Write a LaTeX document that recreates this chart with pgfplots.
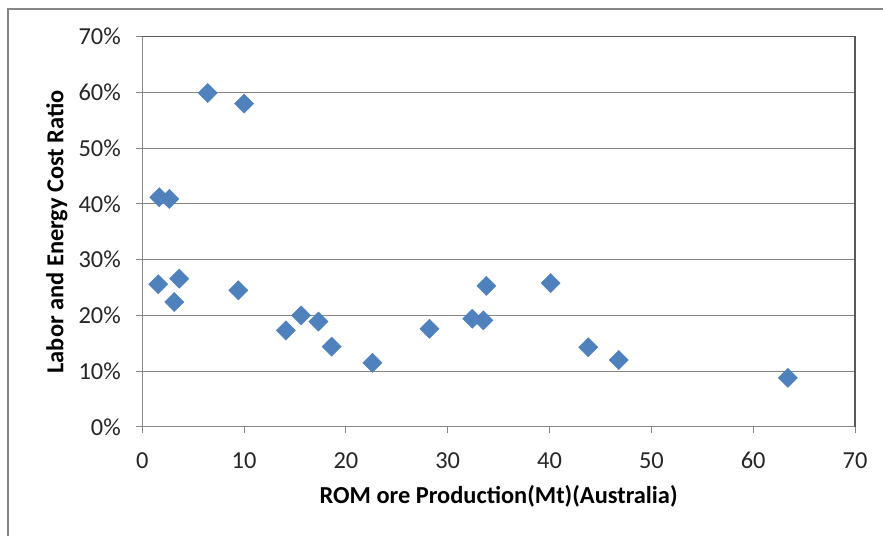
\documentclass[border=0pt]{standalone}
\usepackage{pgfplots}
\pgfplotsset{compat=1.18}
\usepackage{fontspec}
\setmainfont{Carlito}
\definecolor{mblue}{HTML}{4F81BD}
\definecolor{gridg}{HTML}{868686}
\definecolor{darkb}{HTML}{595959}
\begin{document}
\begin{tikzpicture}
\path[use as bounding box] (-142.3bp,-109.1bp) rectangle (740.7bp,426.9bp);
\draw[gridg, line width=1.5bp] (-134.3bp,-130bp) -- (-134.3bp,417.9bp) -- (760bp,417.9bp);
\begin{axis}[
  scale only axis, width=712.7bp, height=390.2bp,
  xmin=0, xmax=70, ymin=0, ymax=70,
  xtick={0,10,...,70}, ytick={0,10,...,70},
  yticklabel={\pgfmathprintnumber{\tick}\%},
  /pgf/number format/assume math mode=true,
  ticklabel style={font=\fontsize{24.5}{28}\selectfont, text=black!85},
  xticklabel style={yshift=-16bp},
  yticklabel style={xshift=-12bp},
  axis line style={gridg, line width=1bp},
  tick align=outside, tick pos=left, major tick length=6bp,
  tick style={gridg, line width=1bp},
  ymajorgrids, grid style={gridg, line width=1bp},
  xlabel={ROM ore Production(Mt)(Australia)},
  ylabel={Labor and Energy Cost Ratio},
  label style={font=\bfseries\fontsize{24.5}{28}\selectfont, text=black},
  xlabel style={at={(axis description cs:0.5,-0.1768)}, anchor=center},
  ylabel style={at={(axis description cs:-0.1197,0.5)}, anchor=center},
  clip=false,
]
\addplot[only marks, mark=square*, mark size=6.8bp,
  mark options={rotate=45, fill=mblue, draw=mblue, line width=0.4bp}]
coordinates {
(1.67,41.2) (2.65,40.9) (6.42,59.9) (10.0,58.0)
(1.57,25.6) (3.63,26.6) (3.14,22.4) (9.43,24.5)
(14.1,17.3) (15.6,20.0) (17.3,18.9) (18.6,14.4)
(22.6,11.5) (28.2,17.6) (32.4,19.4) (33.5,19.1)
(33.8,25.3) (40.1,25.8) (43.8,14.3) (46.8,12.0)
(63.4,8.8)
};
\draw[darkb, line width=1.5bp] (rel axis cs:0,1) -- (rel axis cs:1,1) -- (rel axis cs:1,0);
\end{axis}
\end{tikzpicture}
\end{document}
